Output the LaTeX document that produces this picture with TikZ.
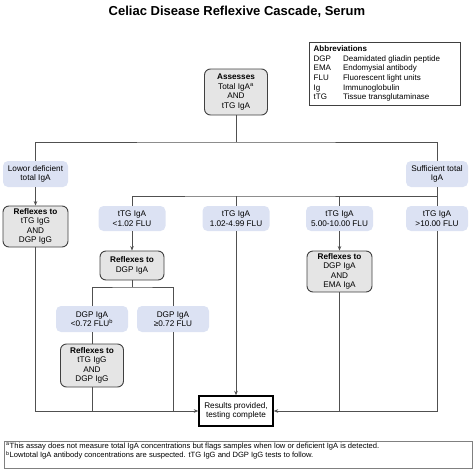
\documentclass[tikz,border=0pt]{standalone}
\usepackage{fontspec}
\setmainfont{Liberation Sans}
\usepackage{tikz}
\usetikzlibrary{arrows.meta}

\definecolor{rangeblue}{HTML}{DCE2F3}
\definecolor{reflexgray}{HTML}{E5E5E5}
\definecolor{boxline}{HTML}{404040}
\definecolor{wire}{HTML}{505050}
\newcommand{\cascfont}{\fontsize{8.2}{9.5}\selectfont}

\tikzset{
  rangebox/.style={fill=rangeblue, rounded corners=5pt, align=center,
    inner sep=0pt, font=\cascfont},
  reflexbox/.style={draw=boxline, fill=reflexgray, rounded corners=6pt,
    line width=0.9pt, align=center, inner sep=0pt, font=\cascfont},
  wires/.style={draw=wire, line width=0.8pt},
}

\begin{document}
\begin{tikzpicture}[x=1pt,y=-1pt,>={Stealth[length=4.5pt,width=3.6pt]}]
  \useasboundingbox (0,0) rectangle (474,469);

  \node[font=\fontsize{13}{15}\selectfont\bfseries] (title) at (237,12)
    {Celiac Disease Reflexive Cascade, Serum};

  % abbreviations
  \node[draw=boxline, line width=0.8pt, minimum width=151pt, minimum height=63pt,
    anchor=north west] (abbr) at (309,42) {};
  \node[font=\fontsize{8}{9.7}\selectfont, anchor=north west, inner sep=0pt, align=left] (abbrtxt) at (313.5,44.5)
    {\begin{tabular}{@{}l@{\hspace{12pt}}l@{}}
      \multicolumn{2}{@{}l}{\textbf{Abbreviations}}\\
      DGP & Deamidated gliadin peptide\\
      EMA & Endomysial antibody\\
      FLU & Fluorescent light units\\
      Ig  & Immunoglobulin\\
      tTG & Tissue transglutaminase
    \end{tabular}};

  % main boxes
  \node[reflexbox, minimum width=63pt, minimum height=46pt] (assess) at (236,92)
    {\textbf{Assesses}\\Total IgA\textsuperscript{a}\\AND\\tTG IgA};
  \node[rangebox, minimum width=65pt, minimum height=26pt] (low) at (35.5,174)
    {Lowor deficient\\total IgA};
  \node[rangebox, minimum width=62pt, minimum height=26pt] (suff) at (437,174)
    {Sufficient total\\IgA};
  \node[reflexbox, minimum width=65pt, minimum height=41pt] (reflow) at (35.5,226.5)
    {\textbf{Reflexes to}\\tTG IgG\\AND\\DGP IgG};

  \node[rangebox, minimum width=67pt, minimum height=25pt] (t1) at (132,218.5)
    {tTG IgA\\<1.02 FLU};
  \node[rangebox, minimum width=67pt, minimum height=25pt] (t2) at (236,218.5)
    {tTG IgA\\1.02-4.99 FLU};
  \node[rangebox, minimum width=67pt, minimum height=25pt] (t3) at (339.5,218.5)
    {tTG IgA\\5.00-10.00 FLU};
  \node[rangebox, minimum width=62pt, minimum height=25pt] (t4) at (437,218.5)
    {tTG IgA\\>10.00 FLU};

  \node[reflexbox, minimum width=64pt, minimum height=29pt] (rdgp) at (132,265.5)
    {\textbf{Reflexes to}\\DGP IgA};
  \node[reflexbox, minimum width=65pt, minimum height=41pt] (rema) at (339.5,271.5)
    {\textbf{Reflexes to}\\DGP IgA\\AND\\EMA IgA};

  \node[rangebox, minimum width=72pt, minimum height=26pt] (d1) at (92,319)
    {DGP IgA\\<0.72 FLU\textsuperscript{b}};
  \node[rangebox, minimum width=72pt, minimum height=26pt] (d2) at (173,319)
    {DGP IgA\\≥0.72 FLU};
  \node[reflexbox, minimum width=63pt, minimum height=43pt] (rigg) at (92,365.5)
    {\textbf{Reflexes to}\\tTG IgG\\AND\\DGP IgG};

  \node[draw=black, line width=1.4pt, minimum width=74pt, minimum height=30pt,
    align=center, inner sep=0pt, font=\cascfont] (res) at (236,411)
    {Results provided,\\testing complete};

  % junction levels
  \coordinate (jA) at (236,142);
  \coordinate (jB) at (236,196);
  \coordinate (jC) at (132,287);

  % connectors
  \draw[wires] (assess) -- (jA);
  \draw[wires] (low.north) |- (jA) -| (suff.north);
  \draw[wires,->] (low) -- (reflow);
  \draw[wires] (suff) -- (t4);
  \draw[wires] (t1.north) |- (jB) -| (t4.north);
  \draw[wires] (t2.north) -- (jB);
  \draw[wires] (t3.north) -- (t3.north |- jB);
  \draw[wires,->] (t1) -- (rdgp);
  \draw[wires,->] (t3) -- (rema);
  \draw[wires] (rdgp) -- (jC);
  \draw[wires] (d1.north) |- (jC) -| (d2.north);
  \draw[wires] (d1) -- (rigg);
  \draw[wires,->] (t2) -- (res);
  \draw[wires,->] (reflow.south) |- (res.west);
  \draw[wires] (rigg.south) -- (rigg.south |- res.west);
  \draw[wires] (d2.south) -- (d2.south |- res.west);
  \draw[wires,->] (t4.south) |- (res.east);
  \draw[wires] (rema.south) -- (rema.south |- res.east);

  % footnotes
  \node[draw=gray, line width=1.3pt, minimum width=468pt, minimum height=27pt,
    anchor=north west] (foot) at (4,441) {};
  \node[font=\fontsize{7.6}{8}\selectfont, anchor=north west, inner sep=0pt,
    align=left] (foottxt) at (6,442.8)
    {\textsuperscript{a}This assay does not measure total IgA concentrations but flags samples when low or deficient IgA is detected.\\
     \textsuperscript{b}Lowtotal IgA antibody concentrations are suspected. tTG IgG and DGP IgG tests to follow.};
\end{tikzpicture}
\end{document}
